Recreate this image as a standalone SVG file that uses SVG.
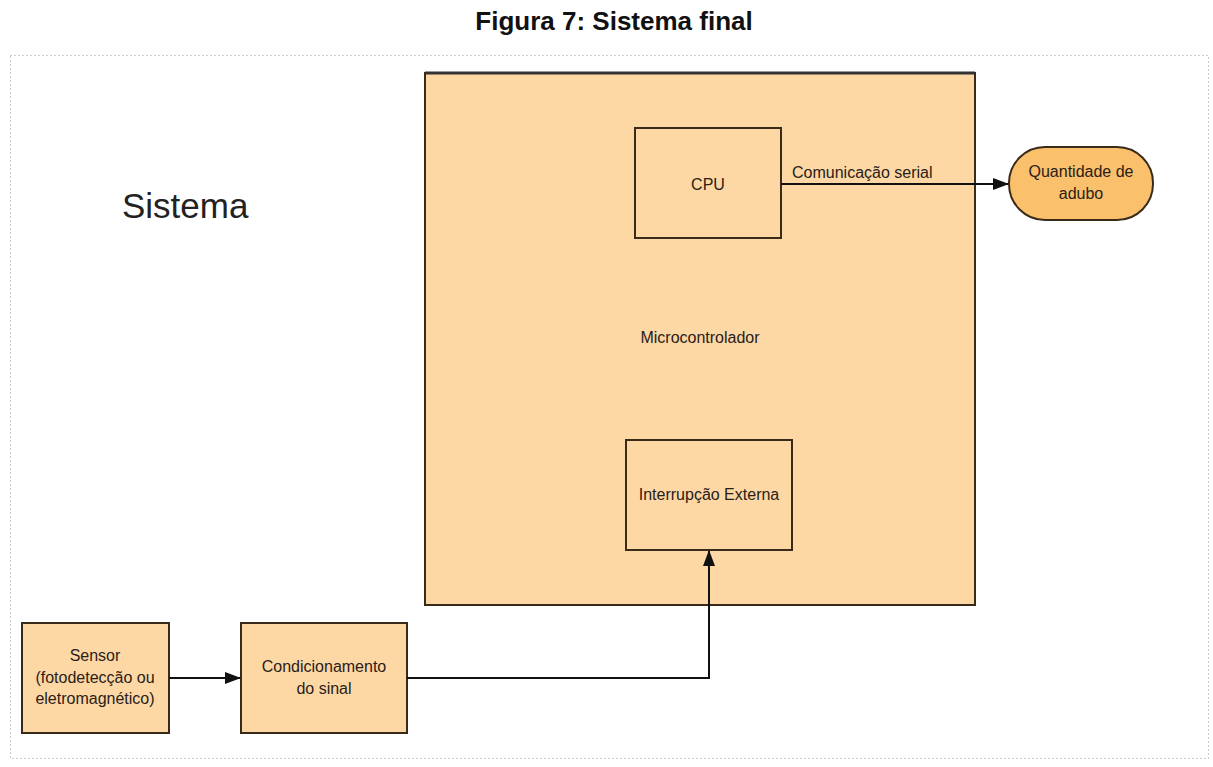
<svg xmlns="http://www.w3.org/2000/svg" width="1213" height="767" viewBox="0 0 1213 767">
<style>
.box{fill:#fdd8a5;stroke:#3a2a1a;stroke-width:2}
.t{font-family:"Liberation Sans",Arial,sans-serif;font-size:16px;fill:#2a2018;text-anchor:middle}
.c{fill:none;stroke:#111;stroke-width:2}
</style>
<defs>
<marker id="ah2" markerWidth="16" markerHeight="12" refX="15" refY="6" orient="auto" markerUnits="userSpaceOnUse"><path d="M0,0 L16,6 L0,12 z" fill="#111"/></marker>
</defs>
<rect width="1213" height="767" fill="#fff"/>
<text x="614" y="30" font-family="Liberation Sans,Arial,sans-serif" font-size="26" font-weight="bold" text-anchor="middle" fill="#111">Figura 7: Sistema final</text>
<rect x="10.5" y="55.5" width="1198" height="703" fill="none" stroke="#999" stroke-width="1" stroke-dasharray="1 3"/>
<text x="122" y="218" font-family="Liberation Sans,Arial,sans-serif" font-size="35" fill="#222">Sistema</text>
<g id="microcontrolador">
<rect class="box" x="425" y="73" width="550" height="532"/>
<line x1="425" y1="73" x2="975" y2="73" stroke="#333" stroke-width="3"/>
<text class="t" x="700" y="343">Microcontrolador</text>
</g>
<g id="cpu">
<rect class="box" x="635" y="128" width="146" height="110"/>
<text class="t" x="708" y="190">CPU</text>
</g>
<g id="interrupcao">
<rect class="box" x="626" y="440" width="166" height="110"/>
<text class="t" x="709" y="500">Interrupção Externa</text>
</g>
<g id="sensor">
<rect class="box" x="22" y="623" width="147" height="110"/>
<text class="t" x="95" y="661">Sensor</text>
<text class="t" x="95" y="683">(fotodetecção ou</text>
<text class="t" x="95" y="704">eletromagnético)</text>
</g>
<g id="condicionamento">
<rect class="box" x="241" y="623" width="166" height="110"/>
<text class="t" x="324" y="672">Condicionamento</text>
<text class="t" x="324" y="694">do sinal</text>
</g>
<g id="quantidade">
<rect x="1009" y="147" width="144" height="73" rx="36" ry="36" fill="#fbc06c" stroke="#3a2a1a" stroke-width="2"/>
<text class="t" x="1081" y="177">Quantidade de</text>
<text class="t" x="1081" y="199">adubo</text>
</g>
<g id="connectors">
<line class="c" x1="781" y1="184" x2="1008" y2="184" marker-end="url(#ah2)"/>
<text x="792" y="178" font-family="Liberation Sans,Arial,sans-serif" font-size="16" fill="#2a2018">Comunicação serial</text>
<line class="c" x1="169" y1="678" x2="240" y2="678" marker-end="url(#ah2)"/>
<polyline class="c" points="407,678 709,678 709,551" marker-end="url(#ah2)"/>
</g>
</svg>
